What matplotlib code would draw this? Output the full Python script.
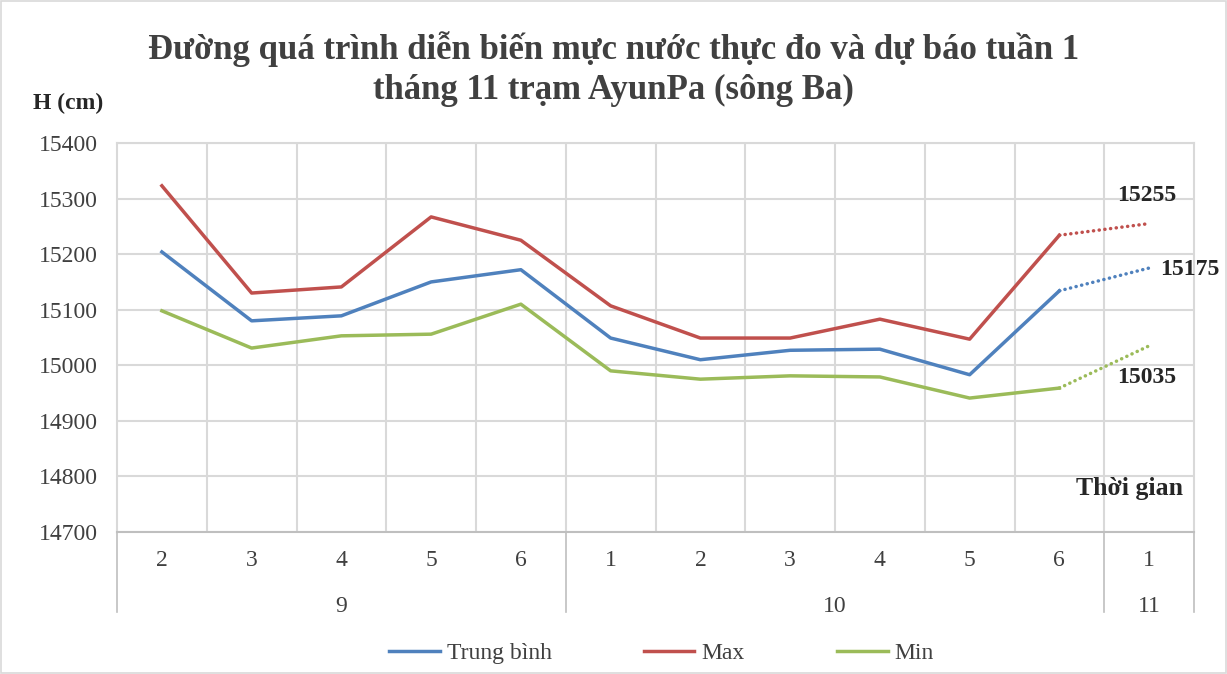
import matplotlib.pyplot as plt
import matplotlib.transforms as mtransforms
from matplotlib.patches import Rectangle

plt.rcParams["font.family"] = ["Liberation Serif", "DejaVu Serif"]

# Data
weeks = ["2", "3", "4", "5", "6", "1", "2", "3", "4", "5", "6", "1"]
months = ["9", "10", "11"]
month_sizes = [5, 6, 1]

h_mean = [15204, 15080, 15089, 15150, 15172, 15049, 15010, 15027, 15029, 14983, 15134]
h_max = [15323, 15130, 15141, 15267, 15225, 15107, 15049, 15049, 15083, 15047, 15234]
h_min = [15098, 15031, 15053, 15056, 15110, 14990, 14975, 14981, 14979, 14941, 14959]

fc_mean = 15175
fc_max = 15255
fc_min = 15035

C_MEAN = "#4F81BD"
C_MAX = "#C0504D"
C_MIN = "#9BBB59"
GRID = "#D9D9D9"
TXT = "#404040"

fig = plt.figure(figsize=(12.27, 6.74), dpi=100)
fig.patches.append(Rectangle((0.001, 0.001), 0.998, 0.998, transform=fig.transFigure,
                             fill=False, edgecolor="#D9D9D9", lw=1.2))

ax = fig.add_axes([117 / 1227, 1 - 532 / 674, (1194 - 117) / 1227, (532 - 143) / 674])

n = len(h_mean)
xs = list(range(n))
lw = 2.5
dots = (0, (0.05, 1.6))

series = [(h_mean, fc_mean, C_MEAN, "Trung bình"),
          (h_max, fc_max, C_MAX, "Max"),
          (h_min, fc_min, C_MIN, "Min")]
for vals, fc, col, name in series:
    ax.plot(xs, vals, color=col, lw=lw, label=name, zorder=3)
    ax.plot([n - 1, n], [vals[-1], fc], color=col, lw=lw, linestyle=dots,
            dash_capstyle="round", zorder=3)

ax.set_xlim(-0.5, len(weeks) - 0.5)
ax.set_ylim(14700, 15400)
ax.set_yticks(range(14700, 15401, 100))
ax.tick_params(axis="y", length=0, labelsize=17, labelcolor=TXT, pad=14)
ax.set_xticks([])

ax.grid(axis="y", color=GRID, lw=1.5, zorder=0)
for b in range(1, len(weeks)):
    ax.axvline(b - 0.5, color=GRID, lw=1.5, zorder=0)

for s in ["top", "right", "left"]:
    ax.spines[s].set_color(GRID)
    ax.spines[s].set_linewidth(1.5)
ax.spines["bottom"].set_color("#BFBFBF")
ax.spines["bottom"].set_linewidth(1.5)

# Multi-level category axis
trans = mtransforms.blended_transform_factory(ax.transData, fig.transFigure)
for i, w in enumerate(weeks):
    ax.text(i, 1 - 560 / 674, w, transform=trans, ha="center", va="center",
            fontsize=17, color=TXT)
start = 0
bounds = [-0.5]
for m, size in zip(months, month_sizes):
    ax.text(start + (size - 1) / 2, 1 - 607 / 674, m, transform=trans,
            ha="center", va="center", fontsize=17, color=TXT)
    start += size
    bounds.append(start - 0.5)
for bx in bounds:
    ax.plot([bx, bx], [1 - 532 / 674, 1 - 612 / 674], transform=trans,
            color="#BFBFBF", lw=1.2, clip_on=False)

# Forecast labels (offsets in points)
lab = dict(fontsize=17, fontweight="bold", color="#262626", textcoords="offset points")
ax.annotate(f"{fc_max}", (n, fc_max), xytext=(-2, 20), ha="center", va="center", **lab)
ax.annotate(f"{fc_mean}", (n, fc_mean), xytext=(8, -1), ha="left", va="center", **lab)
ax.annotate(f"{fc_min}", (n, fc_min), xytext=(-2, -23), ha="center", va="center", **lab)

fig.text(0.5, 1 - 69 / 674,
         "Đường quá trình diễn biến mực nước thực đo và dự báo tuần 1\ntháng 11 trạm AyunPa (sông Ba)",
         ha="center", va="center", fontsize=25, fontweight="bold", color="#404040",
         linespacing=1.3)
fig.text(33 / 1227, 1 - 103 / 674, "H (cm)", ha="left", va="center",
         fontsize=17, fontweight="bold", color="#262626")
fig.text(1130 / 1227, 1 - 488 / 674, "Thời gian", ha="center", va="center",
         fontsize=18.5, fontweight="bold", color="#262626")

fig.legend(loc="center", bbox_to_anchor=(0.539, 1 - 653 / 674), ncol=3, frameon=False,
           fontsize=17, handlelength=2.15, columnspacing=3.9, handletextpad=0.3,
           labelcolor=TXT)

fig.savefig("out.png", dpi=100)
